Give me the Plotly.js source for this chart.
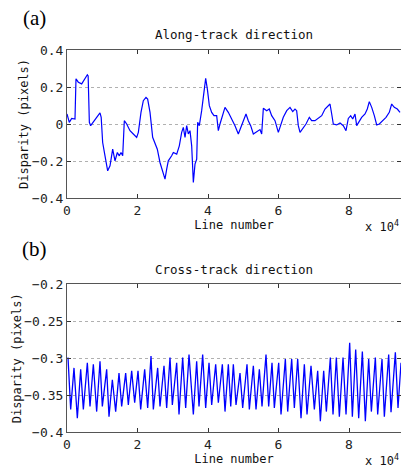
<!DOCTYPE html>
<html>
<head>
<meta charset="utf-8">
<script src="https://cdn.plot.ly/plotly-3.0.1.min.js"></script>
<style>html,body{margin:0;padding:0;background:#fff;}#chart{width:401px;height:471px;}</style>
</head>
<body>
<div id="chart"></div>
<script>
// Panel (a): along-track disparity
const alongLine = [0,650,1330,2270,2550,3215,4170,5100,5770,6000,6340,6710,7470,8410,9360,9700,10120,10780,11540,12200,12960,13620,14280,14840,15320,15800,16260,16930,17870,18810,19760,20240,20990,21650,22410,22880,23550,24300,24960,25620,26380,27140,27800,28280,28740,29690,30160,31120,31860,32530,33000,33480,33950,34420,34890,35370,35840,36310,36790,37070,37530,38200,38680,39340,39810,40380,41040,41700,42460,42930,43400,44160,44820,45760,46720,47660,48600,49560,50780,51430,52110,52860,53820,54750,55230,55700,56650,57380,58060,59010,59950,60430,61360,62330,63260,64030,64680,65150,65620,66100,66860,67800,68740,69410,70350,71290,72250,73190,74130,74610,75090,75550,76510,77450,78390,79150,79800,80480,81050,81700,82180,82920,83590,84540,85190,85760,86440,87180,87860,88600,89560,90500,91430,92110,92850,93700,94470];
const alongDisp = [0.054,0.009,0.03,0.027,0.244,0.226,0.217,0.244,0.266,0.26,0.009,-0.009,0.009,0.036,0.06,0.036,-0.1,-0.172,-0.253,-0.226,-0.136,-0.199,-0.154,-0.172,-0.154,-0.172,0.018,0,-0.036,-0.054,-0.072,-0.045,0.063,0.126,0.144,0.135,0.063,-0.072,-0.1,-0.136,-0.208,-0.262,-0.298,-0.244,-0.199,-0.172,-0.154,-0.163,-0.118,-0.045,-0.018,-0.072,-0.009,-0.054,-0.036,-0.118,-0.316,-0.217,-0.19,0.009,-0.009,0.072,0.153,0.247,0.19,0.099,0.063,0.045,0.045,-0.036,0,0.054,0.09,0.063,0.027,-0.009,-0.054,-0.009,0.054,0.018,-0.009,-0.054,-0.041,-0.03,-0.054,0.085,0.072,0.081,0.045,0.018,-0.045,-0.02,0.036,0.072,0.09,0.067,0.081,0.072,-0.009,-0.045,-0.027,0,0.036,0.018,0.018,0.03,0.045,0.081,0.103,0.108,0.054,0,-0.005,0.005,-0.009,-0.036,0.03,0.045,0.027,0.054,-0.009,0.018,0.036,0.054,0.081,0.121,0.09,0.045,-0.005,0,0.018,0.036,0.063,0.108,0.09,0.081,0.063];

// Panel (b): cross-track disparity
const crossLine = [284,1040,1986,2931,3877,4634,5769,6525,7471,8417,9362,10024,11253,11915,12861,13807,14752,15509,16644,17400,18346,19197,20143,20899,22034,22885,23831,24492,25722,26384,27519,28275,29221,29883,31112,31774,32814,33665,34611,35840,36786,37448,38488,39340,40285,41042,42177,42933,44068,44825,45770,46450,47189,47945,49080,49837,51066,51728,52863,53619,54565,55322,56456,57213,58159,58820,60050,60712,61941,62603,63738,64494,65440,66385,67331,68087,69222,70168,71113,71870,72815,73572,74707,75464,76410,77261,78301,79152,80192,80949,81895,82746,83786,84637,85582,86339,87473,88135,89364,90026,91256,91918,93147,93904,94755];
const crossDisp = [-0.299,-0.369,-0.313,-0.381,-0.315,-0.369,-0.306,-0.365,-0.308,-0.372,-0.304,-0.365,-0.315,-0.379,-0.329,-0.372,-0.320,-0.365,-0.320,-0.363,-0.317,-0.360,-0.317,-0.369,-0.315,-0.367,-0.297,-0.369,-0.313,-0.365,-0.310,-0.367,-0.299,-0.363,-0.306,-0.376,-0.299,-0.367,-0.295,-0.376,-0.304,-0.365,-0.295,-0.367,-0.306,-0.363,-0.308,-0.360,-0.308,-0.372,-0.308,-0.365,-0.308,-0.363,-0.320,-0.367,-0.308,-0.369,-0.310,-0.369,-0.315,-0.365,-0.295,-0.365,-0.306,-0.367,-0.306,-0.376,-0.301,-0.372,-0.301,-0.367,-0.301,-0.381,-0.308,-0.376,-0.310,-0.369,-0.317,-0.385,-0.317,-0.372,-0.299,-0.376,-0.299,-0.379,-0.299,-0.376,-0.279,-0.379,-0.288,-0.381,-0.291,-0.385,-0.301,-0.372,-0.299,-0.376,-0.301,-0.379,-0.295,-0.373,-0.292,-0.367,-0.306];

const xTickVals = [0, 20000, 40000, 60000, 80000];
const xTickText = ["0", "2", "4", "6", "8"];
const topTitle = "Along-track direction";
const bottomTitle = "Cross-track direction";

const mono = "DejaVu Sans Mono, Liberation Mono, monospace";
const W = 401, H = 471;
const py = p => 1 - p / H;

const xCommon = {
  range: [0, 94750], domain: [67 / W, 1],
  tickmode: "array", tickvals: xTickVals, ticktext: xTickText,
  ticks: "inside", ticklen: 4, tickcolor: "#333",
  showline: true, linecolor: "#555", linewidth: 1, mirror: "ticks",
  showgrid: false, zeroline: false,
  tickfont: {family: mono, size: 13, color: "#222"},
  title: {text: "Line number", font: {family: mono, size: 12, color: "#111"}, standoff: 1}
};
const yCommon = {
  ticks: "inside", ticklen: 4, tickcolor: "#333",
  showline: true, linecolor: "#555", linewidth: 1, mirror: "ticks",
  showgrid: true, gridcolor: "#b0b0b0", griddash: "dot", gridwidth: 1,
  zeroline: false,
  tickfont: {family: mono, size: 13, color: "#222"},
  title: {text: "Disparity (pixels)", font: {family: mono, size: 12, color: "#111"}, standoff: 0}
};

const data = [
  {x: alongLine, y: alongDisp, type: "scatter", mode: "lines", line: {color: "#0000ff", width: 1.2}, xaxis: "x", yaxis: "y", hoverinfo: "skip"},
  {x: crossLine, y: crossDisp, type: "scatter", mode: "lines", line: {color: "#0000ff", width: 1.3}, xaxis: "x2", yaxis: "y2", hoverinfo: "skip"}
];

const layout = {
  width: W, height: H,
  margin: {l: 0, r: 0, t: 0, b: 0},
  paper_bgcolor: "#fff", plot_bgcolor: "#fff",
  showlegend: false,
  xaxis: Object.assign({}, xCommon, {anchor: "y"}),
  yaxis: Object.assign({}, yCommon, {anchor: "x", domain: [py(198), py(50)], range: [-0.4, 0.4], tickvals: [-0.4, -0.2, 0, 0.2, 0.4]}),
  xaxis2: Object.assign({}, xCommon, {anchor: "y2"}),
  yaxis2: Object.assign({}, yCommon, {anchor: "x2", domain: [py(432.3), py(284.3)], range: [-0.4, -0.2], tickvals: [-0.4, -0.35, -0.3, -0.25, -0.2]}),
  annotations: [
    {text: "(a)", xref: "paper", yref: "paper", x: 34 / W, y: py(18), xanchor: "center", yanchor: "middle", showarrow: false, font: {family: "Liberation Serif, Times New Roman, serif", size: 21, color: "#000"}},
    {text: "(b)", xref: "paper", yref: "paper", x: 34 / W, y: py(249), xanchor: "center", yanchor: "middle", showarrow: false, font: {family: "Liberation Serif, Times New Roman, serif", size: 21, color: "#000"}},
    {text: topTitle, xref: "paper", yref: "paper", x: 233.5 / W, y: py(35), xanchor: "center", yanchor: "middle", showarrow: false, font: {family: mono, size: 12.5, color: "#111"}},
    {text: bottomTitle, xref: "paper", yref: "paper", x: 233.5 / W, y: py(269), xanchor: "center", yanchor: "middle", showarrow: false, font: {family: mono, size: 12.5, color: "#111"}},
    {text: "x 10<sup>4</sup>", xref: "paper", yref: "paper", x: 1, y: py(226), xanchor: "right", yanchor: "middle", showarrow: false, font: {family: mono, size: 12, color: "#111"}},
    {text: "x 10<sup>4</sup>", xref: "paper", yref: "paper", x: 1, y: py(460), xanchor: "right", yanchor: "middle", showarrow: false, font: {family: mono, size: 12, color: "#111"}}
  ]
};

Plotly.newPlot("chart", data, layout, {staticPlot: true, displayModeBar: false});
</script>
</body>
</html>
